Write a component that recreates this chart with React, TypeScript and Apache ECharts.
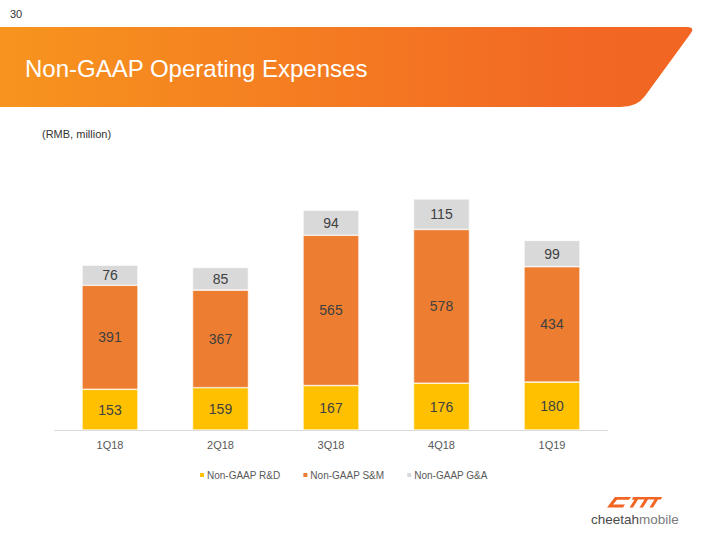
import React, { useEffect, useRef } from "react";
import * as echarts from "echarts";

const categories = ["1Q18", "2Q18", "3Q18", "4Q18", "1Q19"];
const rdValues = [153, 159, 167, 176, 180];
const smValues = [391, 367, 565, 578, 434];
const gaValues = [76, 85, 94, 115, 99];
const seriesNames = ["Non-GAAP R&D", "Non-GAAP S&M", "Non-GAAP G&A"];
const colors = ["#FFC000", "#ED7D31", "#D9D9D9"];

echarts.graphic.registerShape(
  "hdrBand",
  echarts.graphic.extendPath(
    "M0,27 L687,27 Q695,27 691,33 L645,96 Q637,107 621,107 L0,107 Z",
    {}
  ) as any
);
echarts.graphic.registerShape(
  "cmLogo",
  echarts.graphic.extendPath(
    "M9,0 L25,0 L23,3 L11,3 L7,8 L19,8 L17,11 L1,11 Z M27,0 L56,0 L55,2.5 L52,2.5 L47,11 L43.5,11 L48.5,2.5 L42,2.5 L37,11 L33.5,11 L38.5,2.5 L32,2.5 L27,11 L23.5,11 L28.5,3 L26,3 Z",
    {}
  ) as any
);

export default function App() {
  const ref = useRef<HTMLDivElement>(null);
  useEffect(() => {
    const chart = echarts.init(ref.current!, null, { renderer: "svg" });
    const font = "Liberation Sans, Arial, sans-serif";
    const values = [rdValues, smValues, gaValues];
    chart.setOption({
      animation: false,
      textStyle: { fontFamily: font },
      grid: { left: 54.75, width: 552.5, top: 164, height: 266 },
      xAxis: {
        type: "category",
        data: categories,
        axisLine: { lineStyle: { color: "#D9D9D9", width: 1 } },
        axisTick: { show: false },
        axisLabel: { color: "#595959", fontSize: 11, margin: 9, fontFamily: font },
      },
      yAxis: {
        type: "value",
        min: 0,
        max: 1000,
        show: false,
        splitLine: { show: false },
      },
      legend: {
        left: 193,
        top: 465,
        itemWidth: 6,
        itemHeight: 6,
        itemGap: 21,
        icon: "rect",
        textStyle: { color: "#595959", fontSize: 10, fontFamily: font, padding: [0, 0, 0, -3] },
        data: seriesNames,
      },
      series: seriesNames.map((name, i) => ({
        name,
        type: "bar",
        stack: "total",
        barWidth: 56,
        data: values[i],
        itemStyle: { color: colors[i], borderColor: "#ffffff", borderWidth: 0.6 },
        label: {
          show: true,
          position: "inside",
          color: "#404040",
          fontSize: 14,
          fontFamily: font,
        },
      })),
      graphic: [
        {
          type: "text",
          left: 10,
          top: 8,
          style: { text: "30", fill: "#333333", font: `11px ${font}` },
        },
        {
          type: "hdrBand",
          x: 0,
          y: 0,
          style: {
            fill: new echarts.graphic.LinearGradient(0, 0, 1, 0, [
              { offset: 0, color: "#F7941E" },
              { offset: 0.85, color: "#F26724" },
              { offset: 1, color: "#F26522" },
            ]),
          },
        },
        {
          type: "text",
          x: 25,
          y: 68,
          style: {
            text: "Non-GAAP Operating Expenses",
            fill: "#ffffff",
            font: `24px ${font}`,
            textVerticalAlign: "middle",
          },
        },
        {
          type: "text",
          x: 42,
          y: 134,
          style: {
            text: "(RMB, million)",
            fill: "#333333",
            font: `11px ${font}`,
            textVerticalAlign: "middle",
          },
        },
        {
          type: "cmLogo",
          x: 606,
          y: 497,
          scaleX: 1,
          scaleY: 0.95,
          style: { fill: "#F26522" },
        },
        {
          type: "text",
          x: 591,
          y: 519,
          style: {
            text: "{a|cheetah}{b|mobile}",
            textVerticalAlign: "middle",
            rich: {
              a: { fill: "#4a4a4a", fontSize: 13.5, fontFamily: font },
              b: { fill: "#7a7a7a", fontSize: 13.5, fontFamily: font },
            },
          } as any,
        },
      ],
    });
    return () => chart.dispose();
  }, []);
  return <div ref={ref} style={{ width: 720, height: 540, position: "absolute", left: 0, top: 0 }} />;
}
